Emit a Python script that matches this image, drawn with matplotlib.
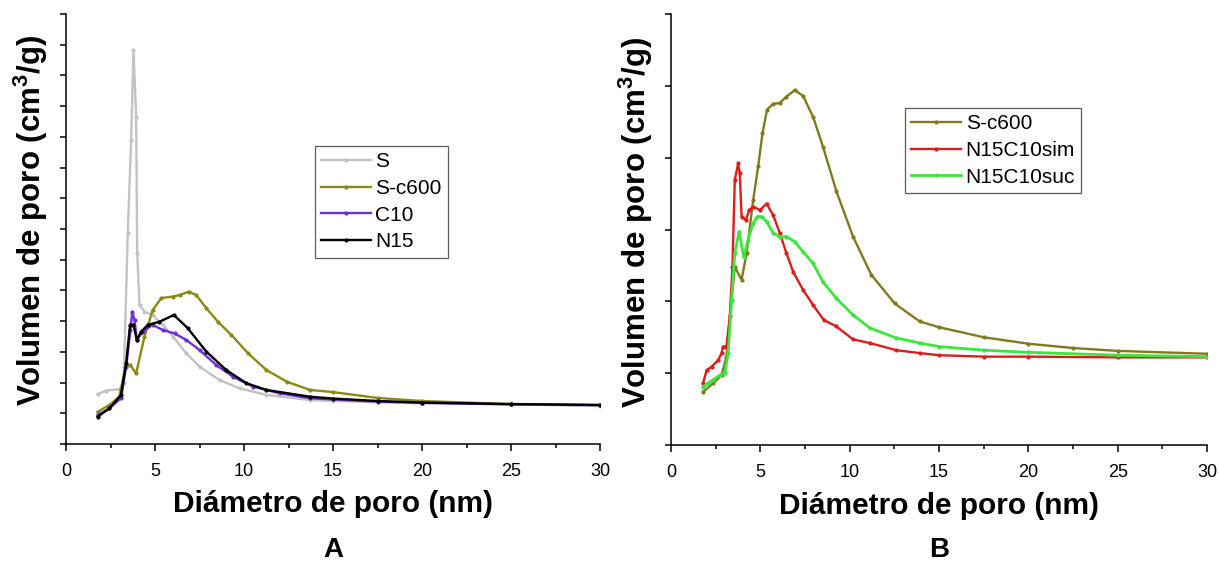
import matplotlib
matplotlib.use('Agg')
import matplotlib.pyplot as plt
from matplotlib.ticker import MultipleLocator, NullFormatter

plt.rcParams['font.family'] = ['Liberation Sans', 'DejaVu Sans']
plt.rcParams['mathtext.default'] = 'regular'

# ---------------- Panel A data ----------------
s_x = [1.78, 2.25, 3.0, 3.24, 3.47, 3.66, 3.79, 3.94, 4.0, 4.13, 4.41, 4.87, 5.44, 6.0,
       6.75, 7.5, 8.63, 9.75, 11.25, 13.7, 15, 17.5, 20, 25, 30]
s_y = [1.62, 1.74, 1.78, 1.98, 6.87, 9.9, 12.83, 10.66, 6.21, 4.53, 4.31, 4.2, 3.88, 3.5,
       2.96, 2.52, 2.08, 1.81, 1.6, 1.43, 1.4, 1.36, 1.33, 1.29, 1.25]

c6a_x = [1.78, 2.44, 3.0, 3.34, 3.6, 3.94, 4.41, 4.87, 5.35, 6.0, 6.38, 6.9, 7.32, 7.88,
         8.54, 9.29, 10.23, 11.26, 12.4, 13.7, 15, 17.5, 20, 25, 30]
c6a_y = [1.05, 1.27, 1.54, 2.52, 2.57, 2.3, 3.5, 4.36, 4.75, 4.8, 4.85, 4.96, 4.85, 4.42,
         3.98, 3.55, 2.95, 2.41, 2.03, 1.76, 1.69, 1.5, 1.4, 1.3, 1.27]

c10_x = [1.78, 2.44, 3.09, 3.38, 3.62, 3.72, 3.85, 3.98, 4.32, 4.87, 5.44, 6.1, 6.75, 7.5,
         8.44, 9.38, 10.5, 12.0, 13.7, 15, 17.5, 20, 25, 30]
c10_y = [0.94, 1.16, 1.49, 2.52, 3.71, 4.31, 4.04, 3.39, 3.66, 3.88, 3.71, 3.6, 3.39, 3.06,
         2.57, 2.19, 1.87, 1.65, 1.49, 1.45, 1.38, 1.34, 1.29, 1.26]

n15_x = [1.78, 2.44, 3.09, 3.38, 3.6, 3.79, 3.98, 4.22, 4.6, 5.25, 6.06, 6.84, 7.88, 9.0,
         10.13, 11.26, 13.7, 15, 17.5, 20, 25, 30]
n15_y = [0.89, 1.16, 1.6, 2.63, 3.88, 3.88, 3.39, 3.66, 3.88, 3.98, 4.2, 3.77, 3.01, 2.41,
         1.98, 1.76, 1.54, 1.48, 1.4, 1.35, 1.3, 1.27]

# ---------------- Panel B data ----------------
c6b_x = [1.8, 2.36, 2.83, 3.1, 3.39, 3.57, 3.95, 4.23, 4.6, 4.88, 5.12, 5.38, 5.72, 6.09,
         6.46, 6.93, 7.39, 7.95, 8.51, 9.26, 10.19, 11.21, 12.52, 13.92, 15, 17.5, 20,
         22.5, 25, 30]
c6b_y = [0.74, 0.86, 0.97, 1.23, 2.02, 2.48, 2.3, 2.67, 3.41, 3.88, 4.34, 4.67, 4.75, 4.76,
         4.85, 4.94, 4.86, 4.57, 4.15, 3.53, 2.9, 2.37, 1.97, 1.72, 1.64, 1.5, 1.41,
         1.35, 1.31, 1.27]

sim_x = [1.8, 1.99, 2.27, 2.64, 2.83, 2.92, 3.1, 3.29, 3.44, 3.57, 3.76, 3.85, 3.95, 4.19,
         4.38, 4.6, 4.98, 5.35, 5.72, 6.09, 6.46, 6.84, 7.39, 7.95, 8.55, 9.26, 10.19,
         11.12, 12.61, 13.92, 15, 17.5, 20, 25, 30]
sim_y = [0.86, 1.04, 1.09, 1.18, 1.28, 1.37, 1.37, 1.79, 2.48, 3.69, 3.92, 3.78, 3.18, 3.13,
         3.27, 3.32, 3.27, 3.36, 3.2, 2.95, 2.67, 2.41, 2.16, 1.95, 1.74, 1.65, 1.47,
         1.42, 1.32, 1.28, 1.25, 1.23, 1.23, 1.22, 1.22]

suc_x = [1.8, 2.08, 2.36, 2.74, 3.01, 3.2, 3.39, 3.57, 3.81, 4.07, 4.32, 4.6, 4.83, 5.07,
         5.35, 5.72, 6.09, 6.46, 6.93, 7.39, 7.95, 8.51, 9.26, 10.19, 11.12, 12.61, 13.92,
         15, 17.5, 20, 25, 30]
suc_y = [0.81, 0.86, 0.91, 0.97, 1.0, 1.28, 2.02, 2.67, 2.97, 2.62, 2.86, 3.09, 3.18, 3.18,
         3.11, 2.95, 2.9, 2.9, 2.83, 2.69, 2.53, 2.27, 2.04, 1.81, 1.63, 1.49, 1.42,
         1.37, 1.32, 1.29, 1.25, 1.23]

x_ticks = [0, 5, 10, 15, 20, 25, 30]

fig = plt.figure(figsize=(12.19, 5.64), dpi=100)
axA = fig.add_axes([66 / 1219, 120 / 564, 534 / 1219, 430 / 564])
axB = fig.add_axes([671 / 1219, 119 / 564, 536 / 1219, 431 / 564])

lw = 1.7
ms = 2.0
axA.plot(s_x, s_y, color='#c3c3c3', lw=lw, marker='o', ms=ms, label='S')
axA.plot(c6a_x, c6a_y, color='#8a8a14', lw=lw, marker='o', ms=ms, label='S-c600')
axA.plot(c10_x, c10_y, color='#7030d0', lw=lw, marker='o', ms=ms, label='C10')
axA.plot(n15_x, n15_y, color='#000000', lw=lw, marker='o', ms=ms, label='N15')

axB.plot(c6b_x, c6b_y, color='#807a1c', lw=lw, marker='o', ms=ms, label='S-c600')
axB.plot(sim_x, sim_y, color='#dd1c1c', lw=lw, marker='o', ms=ms, label='N15C10sim')
axB.plot(suc_x, suc_y, color='#3de63d', lw=lw + 0.3, marker='o', ms=ms, label='N15C10suc')

for ax, ytop, leg_anchor in [(axA, 14, (0.466, 0.693)),
                             (axB, 6, (0.437, 0.782))]:
    ax.set_xlim(0, 30)
    ax.set_ylim(0, ytop)
    ax.set_xticks(x_ticks)
    ax.xaxis.set_minor_locator(MultipleLocator(2.5))
    ax.yaxis.set_major_locator(MultipleLocator(1))
    ax.yaxis.set_major_formatter(NullFormatter())
    for sp in ['top', 'right']:
        ax.spines[sp].set_visible(False)
    for sp in ['left', 'bottom']:
        ax.spines[sp].set_linewidth(1.1)
    ax.tick_params(axis='x', which='major', direction='out', length=5, width=1.1,
                   labelsize=13, pad=8.5)
    ax.tick_params(axis='x', which='minor', direction='out', length=3, width=1.1)
    ax.tick_params(axis='y', which='major', direction='out', length=4, width=1.1)
    ax.set_xlabel('Diámetro de poro (nm)', fontsize=21.5, fontweight='bold')
    ax.set_ylabel('Volumen de poro (cm$^3$/g)', fontsize=22.5, fontweight='bold')
    ax.xaxis.set_label_coords(0.5, -0.108)
    leg = ax.legend(loc='upper left', bbox_to_anchor=leg_anchor, borderaxespad=0,
                    fontsize=15, frameon=True, fancybox=False, handlelength=2.4,
                    handletextpad=0.2, labelspacing=0.37, borderpad=0.3,
                    numpoints=1)
    leg.get_frame().set_edgecolor('#333333')
    leg.get_frame().set_linewidth(0.9)

axA.yaxis.set_label_coords(-0.03, 0.52)
axB.yaxis.set_label_coords(-0.03, 0.517)

fig.text((66 + 600) / 2 / 1219, 1 - 557 / 564, 'A', fontsize=20, fontweight='bold',
         ha='center', va='baseline')
fig.text((671 + 1207) / 2 / 1219, 1 - 557 / 564, 'B', fontsize=20, fontweight='bold',
         ha='center', va='baseline')

fig.savefig('out.png', dpi=100)
